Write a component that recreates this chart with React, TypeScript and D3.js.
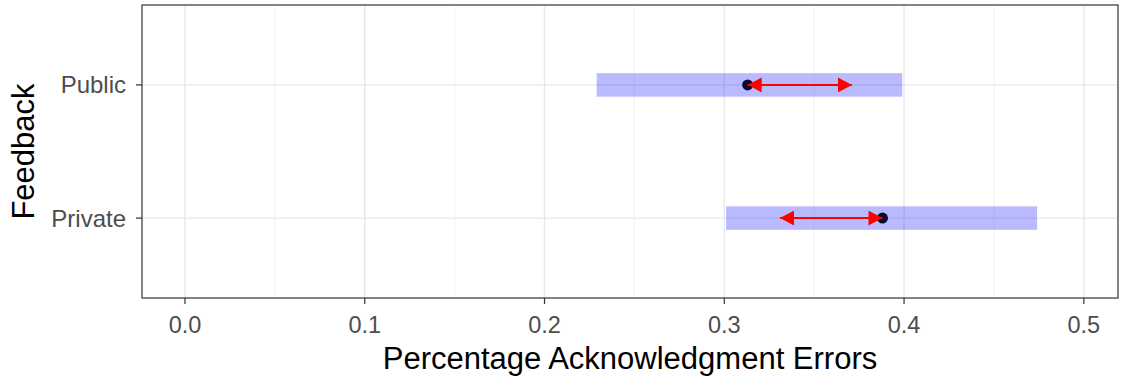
import React from "react";
import * as d3 from "d3";

const categories = ["Private", "Public"];
const ciLow = [0.301, 0.229];
const ciHigh = [0.474, 0.399];
const pointValue = [0.388, 0.313];
const arrowEnd = [0.331, 0.371];
const xTicks = [0, 0.1, 0.2, 0.3, 0.4, 0.5];
const xMinor = [0.05, 0.15, 0.25, 0.35, 0.45];

const W = 1125;
const H = 379;
const panel = { left: 142, right: 1118, top: 5, bottom: 298 };

export default function App() {
  const x = d3.scaleLinear().domain([-0.0239, 0.519]).range([panel.left, panel.right]);
  const y = d3.scaleLinear().domain([0.4, 2.6]).range([panel.bottom, panel.top]);
  const font = "'Liberation Sans', Arial, sans-serif";
  const barH = 23.5;
  return (
    <svg width={W} height={H} style={{ position: "absolute", left: 0, top: 0 }}>
      <defs>
        <marker id="ah2" viewBox="0 0 14 15" refX="14" refY="7.5" markerWidth="14" markerHeight="15" markerUnits="userSpaceOnUse" orient="auto-start-reverse">
          <path d="M0,0 L14,7.5 L0,15 Z" fill="#ff0000" />
        </marker>
      </defs>
      <rect x={0} y={0} width={W} height={H} fill="#fff" />
      {xMinor.map((v) => (
        <line key={"mn" + v} x1={x(v)} x2={x(v)} y1={panel.top} y2={panel.bottom} stroke="#f0f0f0" strokeWidth={0.9} />
      ))}
      {xTicks.map((v) => (
        <line key={"mj" + v} x1={x(v)} x2={x(v)} y1={panel.top} y2={panel.bottom} stroke="#e8e8e8" strokeWidth={1.4} />
      ))}
      {categories.map((c, i) => (
        <line key={"gy" + c} x1={panel.left} x2={panel.right} y1={y(i + 1)} y2={y(i + 1)} stroke="#e8e8e8" strokeWidth={1.4} />
      ))}
      {categories.map((c, i) => (
        <rect key={"ci" + c} x={x(ciLow[i])} y={y(i + 1) - barH / 2} width={x(ciHigh[i]) - x(ciLow[i])} height={barH} fill="#0000ff" fillOpacity={0.27} />
      ))}
      {categories.map((c, i) => (
        <circle key={"pt" + c} cx={x(pointValue[i])} cy={y(i + 1)} r={5.5} fill="#0a0a30" />
      ))}
      {categories.map((c, i) => (
        <line key={"ar" + c} x1={x(pointValue[i])} x2={x(arrowEnd[i])} y1={y(i + 1)} y2={y(i + 1)} stroke="#ff0000" strokeWidth={2} markerStart="url(#ah2)" markerEnd="url(#ah2)" />
      ))}
      <rect x={panel.left} y={panel.top} width={panel.right - panel.left} height={panel.bottom - panel.top} fill="none" stroke="#333333" strokeWidth={1.2} />
      {xTicks.map((v) => (
        <g key={"xt" + v}>
          <line x1={x(v)} x2={x(v)} y1={panel.bottom} y2={panel.bottom + 6} stroke="#333333" strokeWidth={1.2} />
          <text x={x(v)} y={333} textAnchor="middle" fontFamily={font} fontSize={23.5} fill="#4d4d4d">
            {d3.format(".1f")(v)}
          </text>
        </g>
      ))}
      {categories.map((c, i) => (
        <g key={"yt" + c}>
          <line x1={panel.left - 6} x2={panel.left} y1={y(i + 1)} y2={y(i + 1)} stroke="#333333" strokeWidth={1.2} />
          <text x={126} y={y(i + 1) + 8.5} textAnchor="end" fontFamily={font} fontSize={24} fill="#4d4d4d">
            {c}
          </text>
        </g>
      ))}
      <text x={(panel.left + panel.right) / 2} y={369} textAnchor="middle" fontFamily={font} fontSize={31} fill="#000">
        Percentage Acknowledgment Errors
      </text>
      <text transform={`translate(34,${(panel.top + panel.bottom) / 2}) rotate(-90)`} textAnchor="middle" fontFamily={font} fontSize={31} fill="#000">
        Feedback
      </text>
    </svg>
  );
}
